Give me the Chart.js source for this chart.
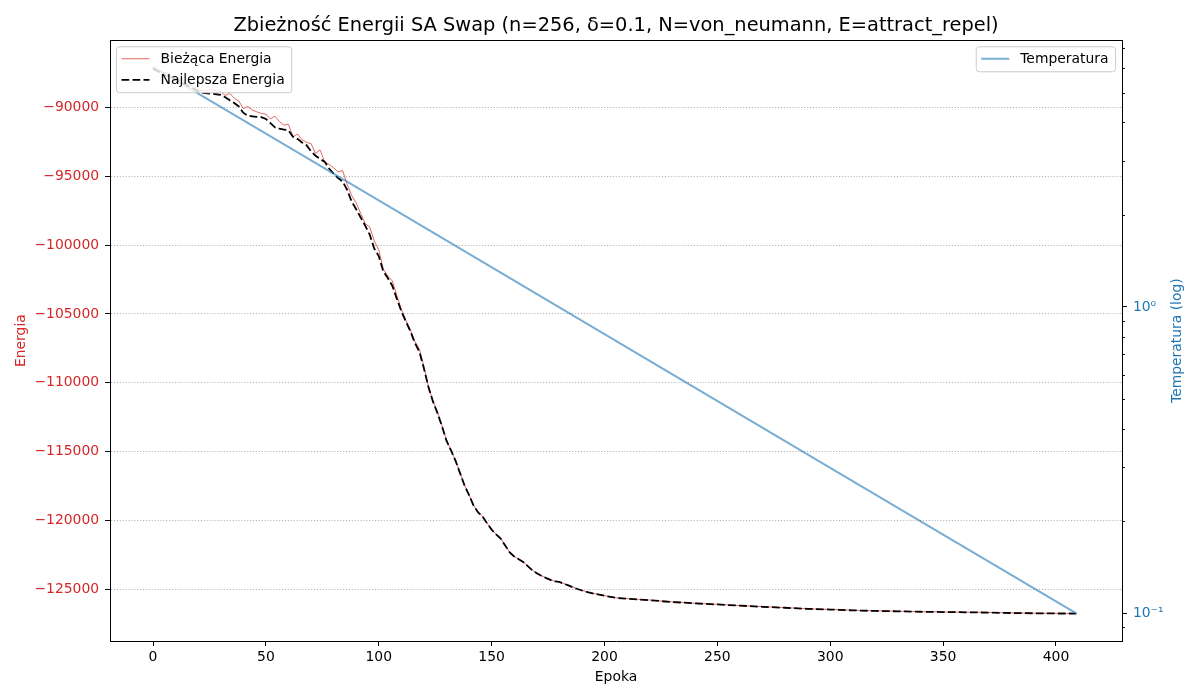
<!DOCTYPE html>
<html><head><meta charset="utf-8">
<script src="https://cdn.jsdelivr.net/npm/chart.js@4.4.1/dist/chart.umd.min.js"></script>
<style>html,body{margin:0;padding:0;background:#fff;}canvas{display:block;}</style>
</head><body>
<canvas id="c" width="1200" height="700"></canvas>
<script>
const epochs = [0,2,4,6,8,10,12,14,16,18,20,22,24,26,28,30,32,34,36,38,40,42,44,46,48,50,52,54,56,58,60,62,64,66,68,70,72,74,76,78,80,82,84,86,88,90,92,94,96,98,100,102,104,106,108,110,112,114,116,118,120,122,124,126,128,130,132,134,136,138,140,142,144,146,148,150,152,154,156,158,160,162,164,166,168,170,172,174,176,178,180,184,188,192,196,200,205,210,215,220,225,230,240,250,260,270,280,290,300,310,320,330,340,350,360,370,380,390,400,409];
const currentEnergy = [-87200,-87300,-87500,-87480,-87750,-87900,-88000,-88150,-88350,-88500,-88700,-88780,-88820,-88720,-88800,-88880,-89150,-88990,-89350,-89550,-90100,-89950,-90200,-90340,-90450,-90500,-90850,-90650,-91050,-91300,-91250,-92150,-91950,-92350,-92550,-92650,-93350,-93100,-93950,-94150,-94400,-94700,-94600,-95600,-96400,-96950,-97700,-98450,-98700,-99700,-100350,-101750,-102250,-102600,-103650,-104650,-105450,-106150,-107000,-107550,-108800,-110250,-111300,-112100,-113100,-114150,-114880,-115620,-116500,-117420,-118120,-118880,-119380,-119680,-120180,-120640,-120990,-121290,-121790,-122290,-122590,-122790,-122990,-123290,-123590,-123810,-123990,-124140,-124290,-124390,-124440,-124690,-124950,-125160,-125310,-125440,-125590,-125660,-125710,-125760,-125830,-125890,-125990,-126070,-126160,-126240,-126310,-126390,-126440,-126500,-126540,-126570,-126600,-126620,-126640,-126660,-126690,-126710,-126730,-126740];
const bestEnergy = [-87200,-87380,-87540,-87700,-87860,-88000,-88150,-88330,-88500,-88660,-88850,-88960,-89000,-89020,-89060,-89100,-89280,-89500,-89700,-89950,-90400,-90620,-90660,-90700,-90720,-90850,-91150,-91460,-91560,-91620,-91680,-92150,-92300,-92560,-92760,-93200,-93520,-93760,-93950,-94450,-94820,-95150,-95380,-96000,-96850,-97400,-98000,-98600,-99250,-100250,-100800,-101900,-102400,-102950,-103900,-104800,-105550,-106250,-107100,-107750,-108950,-110300,-111350,-112200,-113150,-114200,-114900,-115650,-116550,-117450,-118150,-118900,-119400,-119700,-120200,-120650,-121000,-121300,-121800,-122300,-122600,-122800,-123000,-123300,-123600,-123820,-124000,-124150,-124300,-124400,-124450,-124700,-124960,-125170,-125320,-125450,-125600,-125670,-125720,-125770,-125840,-125900,-126000,-126080,-126170,-126250,-126320,-126400,-126450,-126510,-126550,-126580,-126610,-126630,-126650,-126670,-126700,-126720,-126735,-126740];
const tempEpochs = [0,100,200,300,409];
const temperature = [6.07,2.227,0.815,0.2985,0.1];
const energyTicks = [-125000,-120000,-115000,-110000,-105000,-100000,-95000,-90000];
const epochTicks = [0,50,100,150,200,250,300,350,400];
const tempMajorTicks = [0.1,1];
const tempMinorTicks = [0.09,0.2,0.3,0.4,0.5,0.6,0.7,0.8,0.9,2,3,4,5,6,7];
const titleText = 'Zbieżność Energii SA Swap (n=256, δ=0.1, N=von_neumann, E=attract_repel)';

const FONT = '"DejaVu Sans", sans-serif';
const FS = 13.9;
Chart.defaults.font.family = FONT;
const fmt = v => String(v).replace('-', '\u2212');

function rrect(ctx, x, y, w, h, r) {
  ctx.beginPath();
  ctx.moveTo(x + r, y);
  ctx.lineTo(x + w - r, y); ctx.arcTo(x + w, y, x + w, y + r, r);
  ctx.lineTo(x + w, y + h - r); ctx.arcTo(x + w, y + h, x + w - r, y + h, r);
  ctx.lineTo(x + r, y + h); ctx.arcTo(x, y + h, x, y + h - r, r);
  ctx.lineTo(x, y + r); ctx.arcTo(x, y, x + r, y, r);
  ctx.closePath();
}

const decorPlugin = {
  id: 'decor',
  afterDraw(chart) {
    const ctx = chart.ctx, ca = chart.chartArea, yT = chart.scales.yT;
    ctx.save();
    ctx.strokeStyle = '#000'; ctx.lineWidth = 1; ctx.setLineDash([]);
    tempMinorTicks.forEach(v => {
      const y = Math.round(yT.getPixelForValue(v)) + 0.5;
      ctx.beginPath(); ctx.moveTo(ca.right, y); ctx.lineTo(ca.right + 2.8, y); ctx.stroke();
    });
    // top spine (others are drawn by the scales)
    const ty = Math.round(ca.top) + 0.5;
    ctx.beginPath(); ctx.moveTo(ca.left, ty); ctx.lineTo(ca.right, ty); ctx.stroke();
    // right axis title
    ctx.save();
    ctx.translate(1177, (ca.top + ca.bottom) / 2);
    ctx.rotate(-Math.PI / 2);
    ctx.fillStyle = '#1f77b4'; ctx.font = FS + 'px ' + FONT;
    ctx.textAlign = 'center'; ctx.textBaseline = 'middle';
    ctx.fillText('Temperatura (log)', 0, 0);
    ctx.restore();
    // legends
    const ds = chart.data.datasets;
    ctx.font = FS + 'px ' + FONT;
    const drawLegend = (items, x0, y0, w) => {
      const h = 12 + (items.length - 1) * 21 + 13;
      rrect(ctx, x0, y0, w, h, 3);
      ctx.fillStyle = 'rgba(255,255,255,0.8)'; ctx.fill();
      ctx.strokeStyle = '#cccccc'; ctx.lineWidth = 1; ctx.setLineDash([]); ctx.stroke();
      items.forEach((d, i) => {
        const y = y0 + 12 + i * 21;
        ctx.beginPath();
        ctx.strokeStyle = d.borderColor; ctx.lineWidth = d.borderWidth;
        ctx.setLineDash(d.borderDash || []);
        ctx.moveTo(x0 + 5, y); ctx.lineTo(x0 + 33, y); ctx.stroke();
        ctx.setLineDash([]);
        ctx.fillStyle = '#000'; ctx.textAlign = 'left'; ctx.textBaseline = 'middle';
        ctx.fillText(d.label, x0 + 44, y + 0.5);
      });
    };
    const leftItems = [ds[2], ds[1]];
    const lw = 44 + Math.max(...leftItems.map(d => ctx.measureText(d.label).width)) + 7;
    drawLegend(leftItems, ca.left + 6.5, ca.top + 6.5, lw);
    const rw = 44 + ctx.measureText(ds[0].label).width + 7;
    drawLegend([ds[0]], ca.right - 6.5 - rw, ca.top + 6.5, rw);
    ctx.restore();
  }
};

new Chart(document.getElementById('c'), {
  type: 'line',
  data: {
    datasets: [
      { label: 'Temperatura', data: tempEpochs.map((x, i) => ({ x, y: temperature[i] })), yAxisID: 'yT',
        borderColor: 'rgba(31,119,180,0.6)', borderWidth: 2, pointRadius: 0, tension: 0, order: 0 },
      { label: 'Najlepsza Energia', data: epochs.map((x, i) => ({ x, y: bestEnergy[i] })), yAxisID: 'y',
        borderColor: '#000', borderWidth: 1.8, borderDash: [7.7, 3.3], pointRadius: 0, tension: 0, order: 1 },
      { label: 'Bieżąca Energia', data: epochs.map((x, i) => ({ x, y: currentEnergy[i] })), yAxisID: 'y',
        borderColor: 'rgba(214,39,40,0.7)', borderWidth: 1, pointRadius: 0, tension: 0, order: 2 }
    ]
  },
  options: {
    responsive: false, animation: false, devicePixelRatio: 1,
    layout: { padding: 0 },
    plugins: {
      legend: { display: false }, tooltip: { enabled: false },
      title: { display: true, fullSize: false, text: titleText, color: '#000',
        font: { size: 19.4, weight: 'normal', family: FONT }, padding: { top: 14, bottom: 3 } }
    },
    scales: {
      x: {
        type: 'linear', position: 'bottom', min: -19.05, max: 429.24,
        afterFit(s) { s.height = 59; },
        afterBuildTicks(s) { s.ticks = epochTicks.map(v => ({ value: v })); },
        ticks: { color: '#000', font: { size: FS }, padding: 3.5, maxRotation: 0, autoSkip: false, callback: v => fmt(v) },
        grid: { drawOnChartArea: false, drawTicks: true, tickLength: 4.9, tickColor: '#000', tickWidth: 1 },
        border: { display: true, color: '#000', width: 1 },
        title: { display: true, text: 'Epoka', color: '#000', font: { size: FS }, padding: { top: 0, bottom: 14.7 } }
      },
      y: {
        type: 'linear', position: 'left', min: -128732, max: -85145,
        afterFit(s) { s.width = 110; },
        afterBuildTicks(s) { s.ticks = energyTicks.map(v => ({ value: v })); },
        ticks: { color: '#d62728', font: { size: FS }, padding: 6, autoSkip: false, callback: v => fmt(v) },
        grid: { color: '#b0b0b0', lineWidth: 1, drawTicks: true, tickLength: 4.9, tickColor: '#000', tickWidth: 1, tickBorderDash: [] },
        border: { display: true, color: '#000', width: 1, dash: [1.1, 1.8] },
        title: { display: true, text: 'Energia', color: '#d62728', font: { size: FS }, padding: { top: 12.7, bottom: 0 } }
      },
      yT: {
        type: 'logarithmic', position: 'right', min: 0.08132, max: 7.408,
        afterFit(s) { s.width = 78; },
        afterBuildTicks(s) { s.ticks = tempMajorTicks.map(v => ({ value: v })); },
        ticks: { color: '#1f77b4', font: { size: FS }, padding: 6, autoSkip: false,
          callback: v => v === 1 ? '10\u2070' : (v === 0.1 ? '10\u207B\u00B9' : '') },
        grid: { drawOnChartArea: false, drawTicks: true, tickLength: 4.9, tickColor: '#000', tickWidth: 1 },
        border: { display: true, color: '#000', width: 1 },
        title: { display: false }
      }
    }
  },
  plugins: [decorPlugin]
});
</script>
</body></html>
